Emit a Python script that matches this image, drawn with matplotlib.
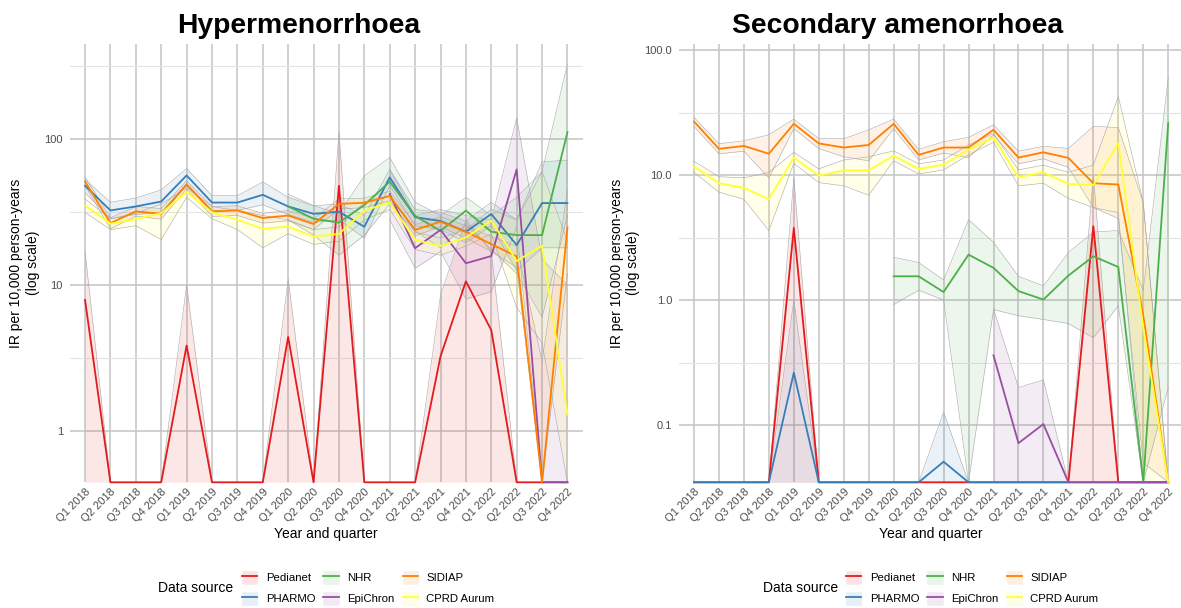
import matplotlib
matplotlib.use("Agg")  # headless
import matplotlib.pyplot as plt
from matplotlib.lines import Line2D
from matplotlib.patches import Patch
from matplotlib.ticker import FixedLocator, NullFormatter
import numpy as np

plt.rcParams["font.family"] = ["Liberation Sans", "DejaVu Sans"]

NA = np.nan

QUARTERS = ["Q1 2018", "Q2 2018", "Q3 2018", "Q4 2018",
            "Q1 2019", "Q2 2019", "Q3 2019", "Q4 2019",
            "Q1 2020", "Q2 2020", "Q3 2020", "Q4 2020",
            "Q1 2021", "Q2 2021", "Q3 2021", "Q4 2021",
            "Q1 2022", "Q2 2022", "Q3 2022", "Q4 2022"]

SOURCES = ["Pedianet", "PHARMO", "NHR", "EpiChron", "SIDIAP", "CPRD Aurum"]
COLORS  = ["#E41A1C", "#377EB8", "#4DAF4A", "#984EA3", "#FF7F00", "#FFFF33"]

# ─── Hypermenorrhoea: IR per 10,000 PY with 95% CI ───────────────────────────
HYP_PEDIANET    = [7.9, 0, 0, 0, 3.84, 0, 0, 0, 4.4, 0, 48.0, 0, 0, 0, 3.24, 10.6, 4.9, 0, 0, 0]
HYP_PEDIANET_LO = [0, 0, 0, 0, 0, 0, 0, 0, 0, 0, 0, 0, 0, 0, 0, 0, 0, 0, 0, 0]
HYP_PEDIANET_HI = [17, 0, 0, 0, 10, 0, 0, 0, 11, 0, 112, 0, 0, 0, 8.5, 28, 17, 0, 0, 0]

HYP_PHARMO    = [48, 32.5, 34.6, 37.4, 56.5, 36.8, 36.8, 41.6, 34.6, 30.8, 31.8, 25.1, 54.8, 29.2, 27.5, 23.2, 30.7, 18.8, 36.5, 36.5]
HYP_PHARMO_LO = [43, 28.5, 30.5, 31.5, 50, 32.5, 32.5, 35.5, 30.5, 27, 28, 21, 48, 25.5, 24, 19.5, 25.5, 12.5, 18, 18]
HYP_PHARMO_HI = [53, 37, 39.5, 45, 63, 41, 41, 51, 40, 35, 36, 30, 62, 33, 31.5, 27.5, 37, 28, 70, 72]

HYP_NHR    = [NA, NA, NA, NA, NA, NA, NA, NA, 34.6, 28.5, 26.8, 35.4, 51.2, 29.8, 23.5, 32.4, 23.2, 22.0, 22.0, 112]
HYP_NHR_LO = [NA, NA, NA, NA, NA, NA, NA, NA, 28, 22, 16, 22, 36, 23.5, 18, 26, 17.5, 12, 6, 30]
HYP_NHR_HI = [NA, NA, NA, NA, NA, NA, NA, NA, 42, 35, 31, 56, 75, 37, 30, 40, 30, 40, 60, 330]

HYP_EPICHRON    = [NA, NA, NA, NA, NA, NA, NA, NA, NA, NA, NA, NA, 42, 17.9, 23.9, 14.1, 15.8, 62.2, 0, 0]
HYP_EPICHRON_LO = [NA, NA, NA, NA, NA, NA, NA, NA, NA, NA, NA, NA, 28, 13, 17, 8, 9, 25, 0, 0]
HYP_EPICHRON_HI = [NA, NA, NA, NA, NA, NA, NA, NA, NA, NA, NA, NA, 62, 30, 33, 30, 28, 140, 15, 10]

HYP_SIDIAP    = [51.3, 26.6, 32, 30.8, 48.8, 32, 32.5, 28.8, 30, 26.2, 36, 36.7, 40.8, 23.9, 27.2, 23.2, 19.1, 15.7, 0, 24.8]
HYP_SIDIAP_LO = [48, 24.3, 29.7, 28.3, 45.8, 29.6, 30, 26.6, 27.6, 24, 33.2, 34, 37.8, 21.8, 25, 21, 17, 13.2, 0, 12]
HYP_SIDIAP_HI = [55, 29, 34.5, 33.5, 52, 34.5, 35, 31, 32.5, 28.5, 39, 39.5, 44, 26, 29.5, 25.5, 21.5, 18.5, 3, 45]

HYP_CPRD    = [35.1, 26.4, 28.3, 31.1, 43.4, 31.6, 28.0, 24.3, 25.2, 21.5, 22.4, 32.4, 36.9, 20.4, 18.5, 21.2, 27.7, 14.6, 18.6, 1.29]
HYP_CPRD_LO = [31.5, 24, 25.5, 20.5, 40, 28.5, 24, 18, 22.5, 19, 20, 28, 33, 17.5, 16, 18.5, 22.5, 7, 4, 0]
HYP_CPRD_HI = [39, 28.5, 31, 36, 46.5, 34.5, 32.5, 30, 28, 24, 25, 37, 41, 23, 21, 24, 33, 28, 60, 20]

# ─── Secondary amenorrhoea ───────────────────────────────────────────────────
AME_PEDIANET    = [0, 0, 0, 0, 3.78, 0, 0, 0, 0, 0, 0, 0, 0, 0, 0, 0, 3.9, 0, 0, 0]
AME_PEDIANET_LO = [0, 0, 0, 0, 0, 0, 0, 0, 0, 0, 0, 0, 0, 0, 0, 0, 0, 0, 0, 0]
AME_PEDIANET_HI = [0, 0, 0, 0, 9.5, 0, 0, 0, 0, 0, 0, 0, 0, 0, 0, 0, 10, 0, 0, 0]

AME_PHARMO    = [0, 0, 0, 0, 0.263, 0, 0, 0, 0, 0, 0.051, 0, 0, 0, 0, 0, 0, 0, 0, 0]
AME_PHARMO_LO = [0, 0, 0, 0, 0, 0, 0, 0, 0, 0, 0, 0, 0, 0, 0, 0, 0, 0, 0, 0]
AME_PHARMO_HI = [0, 0, 0, 0, 1.0, 0, 0, 0, 0, 0, 0.127, 0, 0, 0, 0, 0, 0, 0, 0, 0]

AME_NHR    = [NA, NA, NA, NA, NA, NA, NA, NA, 1.55, 1.55, 1.16, 2.31, 1.81, 1.18, 1.01, 1.57, 2.24, 1.84, 0, 26]
AME_NHR_LO = [NA, NA, NA, NA, NA, NA, NA, NA, 0.92, 1.2, 1.0, 0, 0.84, 0.75, 0.7, 0.65, 0.5, 0.9, 0, 0.2]
AME_NHR_HI = [NA, NA, NA, NA, NA, NA, NA, NA, 2.2, 2.0, 1.45, 4.4, 2.9, 1.55, 1.3, 2.4, 3.5, 3.6, 1.2, 60]

AME_EPICHRON    = [NA, NA, NA, NA, NA, NA, NA, NA, NA, NA, NA, NA, 0.362, 0.0718, 0.102, 0, 0, 0, 0, 0]
AME_EPICHRON_LO = [NA, NA, NA, NA, NA, NA, NA, NA, NA, NA, NA, NA, 0, 0, 0, 0, 0, 0, 0, 0]
AME_EPICHRON_HI = [NA, NA, NA, NA, NA, NA, NA, NA, NA, NA, NA, NA, 0.85, 0.2, 0.23, 0, 0, 0, 0, 0]

AME_SIDIAP    = [26.8, 16.2, 17.1, 14.8, 25.7, 17.9, 16.6, 17.4, 25.7, 14.5, 16.6, 16.6, 23, 13.8, 15.2, 13.7, 8.6, 8.4, 0.75, 0]
AME_SIDIAP_LO = [24.5, 14.8, 15.5, 9.5, 23.5, 16.3, 14, 13, 23.5, 13.2, 15, 13.8, 21, 12.3, 13.5, 11.5, 5.5, 4.5, 0.05, 0]
AME_SIDIAP_HI = [29, 17.8, 18.8, 21, 28, 19.6, 19.5, 23, 28, 16, 18.5, 20, 25.2, 15.5, 17, 16.3, 24.5, 24, 6, 0]

AME_CPRD    = [11.7, 8.6, 7.9, 6.4, 13.8, 9.9, 10.9, 10.9, 14.3, 11.2, 12.1, 15.9, 20.0, 9.6, 10.5, 8.5, 8.3, 18.0, 0.6, 0]
AME_CPRD_LO = [10.5, 7.3, 6.4, 3.6, 12.4, 8.7, 8.2, 6.9, 13.0, 10.2, 11, 14.5, 18.3, 8.2, 8.6, 6.5, 5.5, 5, 0.02, 0]
AME_CPRD_HI = [12.9, 9.7, 9.5, 10.5, 15.2, 11.2, 13.2, 14, 15.6, 12.3, 13.2, 17.4, 21.5, 11, 12, 10.5, 12, 42.5, 6, 0]

HYP_SERIES = [
    (HYP_PEDIANET, HYP_PEDIANET_LO, HYP_PEDIANET_HI),
    (HYP_PHARMO, HYP_PHARMO_LO, HYP_PHARMO_HI),
    (HYP_NHR, HYP_NHR_LO, HYP_NHR_HI),
    (HYP_EPICHRON, HYP_EPICHRON_LO, HYP_EPICHRON_HI),
    (HYP_SIDIAP, HYP_SIDIAP_LO, HYP_SIDIAP_HI),
    (HYP_CPRD, HYP_CPRD_LO, HYP_CPRD_HI),
]
AME_SERIES = [
    (AME_PEDIANET, AME_PEDIANET_LO, AME_PEDIANET_HI),
    (AME_PHARMO, AME_PHARMO_LO, AME_PHARMO_HI),
    (AME_NHR, AME_NHR_LO, AME_NHR_HI),
    (AME_EPICHRON, AME_EPICHRON_LO, AME_EPICHRON_HI),
    (AME_SIDIAP, AME_SIDIAP_LO, AME_SIDIAP_HI),
    (AME_CPRD, AME_CPRD_LO, AME_CPRD_HI),
]

W, H = 1181, 608
GRID_MAJOR = "#C4C4C4"
GRID_MINOR = "#E4E4E4"
TICK_COLOR = "#4D4D4D"


def draw_panel(ax, series, ylim, yticks, yticklabels, minor):
    x = np.arange(len(QUARTERS))
    floor = ylim[0]  # zero rates sit on the panel floor (log scale)

    ax.set_yscale("log")
    ax.set_ylim(*ylim)
    ax.set_xlim(-0.6, len(QUARTERS) - 0.4)

    # ribbons first, then lines on top
    for (val, lo, hi), color in zip(series, COLORS):
        lo_ = np.maximum(np.array(lo, float), floor)
        hi_ = np.maximum(np.array(hi, float), floor)
        ax.fill_between(x, lo_, hi_, color=color, alpha=0.1, lw=0, zorder=2)
        ax.plot(x, hi_, color="#A8A8A8", lw=0.4, zorder=2.5)
        ax.plot(x, lo_, color="#A8A8A8", lw=0.4, zorder=2.5)
    for (val, lo, hi), color in zip(series, COLORS):
        v = np.maximum(np.array(val, float), floor)
        ax.plot(x, v, color=color, lw=1.3, zorder=3, clip_on=False)

    ax.set_xticks(x)
    ax.set_xticklabels(QUARTERS, rotation=45, ha="right", va="top",
                       rotation_mode="anchor", fontsize=8, color=TICK_COLOR)
    ax.yaxis.set_major_locator(FixedLocator(yticks))
    ax.set_yticklabels(yticklabels, fontsize=8, color=TICK_COLOR)
    ax.yaxis.set_minor_locator(FixedLocator(minor))
    ax.yaxis.set_minor_formatter(NullFormatter())
    ax.tick_params(axis="x", which="both", length=0, pad=3)
    ax.tick_params(axis="y", which="both", length=0, pad=5)

    ax.grid(True, which="major", axis="both", color=GRID_MAJOR, lw=1.1, zorder=0)
    ax.grid(True, which="minor", axis="y", color=GRID_MINOR, lw=0.8, zorder=0)
    ax.set_axisbelow(True)
    for s in ax.spines.values():
        s.set_visible(False)

    ax.set_xlabel("Year and quarter", fontsize=10, labelpad=2)
    ax.set_ylabel("IR per 10,000 person-years\n(log scale)", fontsize=10,
                  labelpad=3, linespacing=1.25)


def add_title(fig, text, x):
    fig.text(x / W, 1 - 33 / H, text, fontsize=20.3, fontweight="bold",
             ha="center", va="baseline")


def add_legend(fig, title_x, key_x, y):
    handles = [(Patch(facecolor=c, alpha=0.12, edgecolor="#BBBBBB", lw=0.4),
                Line2D([], [], color=c, lw=1.3)) for c in COLORS]
    fig.text(title_x / W, 1 - y / H, "Data source", fontsize=10,
             ha="left", va="center")
    fig.legend(handles, SOURCES, ncol=3, loc="center left",
               bbox_to_anchor=(key_x / W, 1 - y / H), frameon=False,
               fontsize=8.2, handlelength=1.35, handleheight=1.3,
               handletextpad=0.75, columnspacing=0.7, labelspacing=0.75,
               borderpad=0, borderaxespad=0)


def main():
    fig = plt.figure(figsize=(W / 100, H / 100), dpi=100)

    ax1 = fig.add_axes([69.8 / W, 1 - 482.3 / H, 512.9 / W, 438.3 / H])
    draw_panel(ax1, HYP_SERIES, (10 ** -0.354, 10 ** 2.654),
               [1, 10, 100], ["1", "10", "100"],
               [10 ** -0.5, 10 ** 0.5, 10 ** 1.5, 10 ** 2.5])

    ax2 = fig.add_axes([679 / W, 1 - 482.3 / H, 504.2 / W, 438.3 / H])
    draw_panel(ax2, AME_SERIES, (10 ** -1.457, 10 ** 2.048),
               [0.1, 1, 10, 100], ["0.1", "1.0", "10.0", "100.0"],
               [10 ** -1.5, 10 ** -0.5, 10 ** 0.5, 10 ** 1.5])

    # titles are centred over each whole sub-plot, not the panel
    add_title(fig, "Hypermenorrhoea", 299)
    add_title(fig, "Secondary amenorrhoea", 898)

    add_legend(fig, 158, 242, 588)
    add_legend(fig, 763, 846, 588)

    fig.savefig("out.png", dpi=100)
    plt.close(fig)


if __name__ == "__main__":
    main()
